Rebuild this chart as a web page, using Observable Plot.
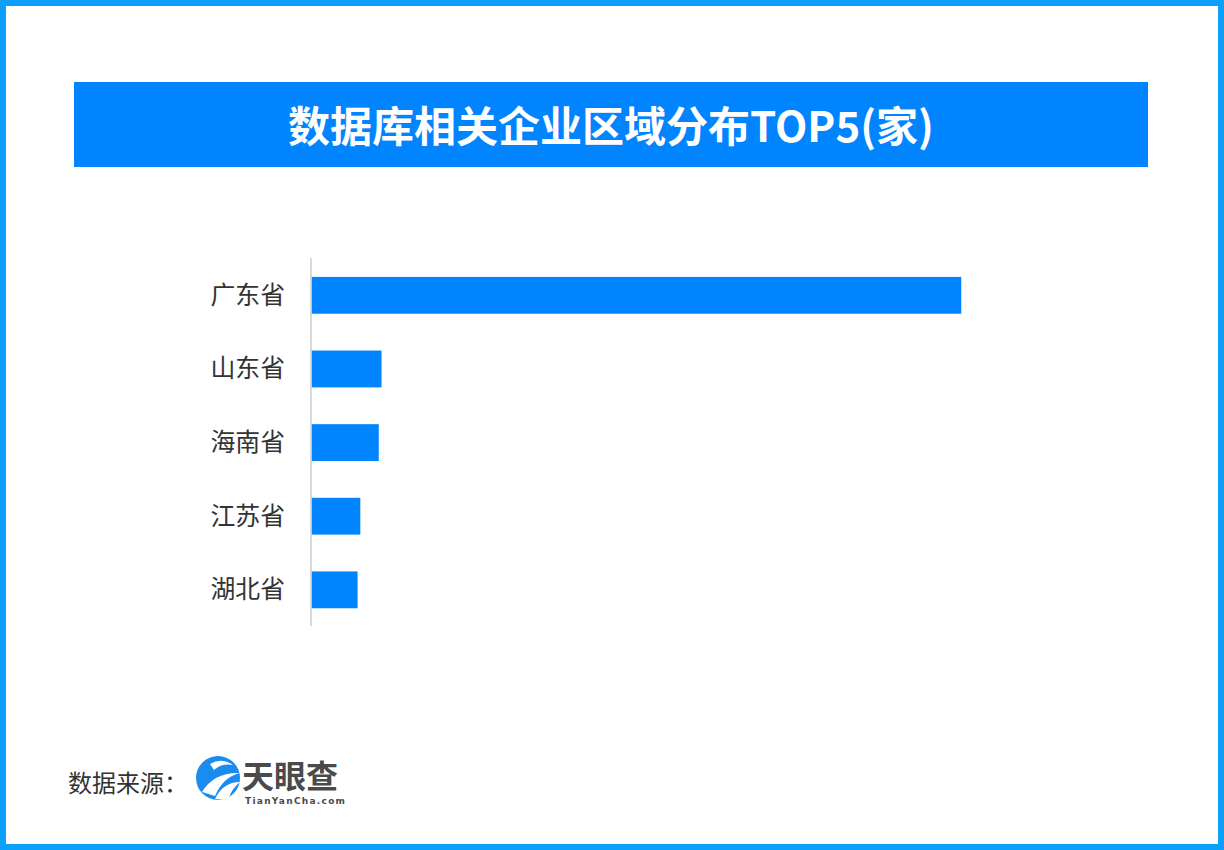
<!DOCTYPE html>
<html>
<head>
<meta charset="utf-8">
<script src="https://cdn.jsdelivr.net/npm/d3@7"></script>
<script src="https://cdn.jsdelivr.net/npm/@observablehq/plot@0.6"></script>
<style>
  html, body { margin: 0; padding: 0; background: #fff; }
  #page { position: relative; width: 1224px; height: 850px; box-sizing: border-box; border: 6px solid #0aa0fb; background: #fff; overflow: hidden; font-family: "Noto Sans CJK SC", "Noto Sans", sans-serif; }
  #title { position: absolute; left: 68px; top: 76px; width: 1074px; height: 85px; background: #0084ff; color: #fff; font-size: 42px; font-weight: bold; line-height: 83px; text-align: center; }
  #chart { position: absolute; left: -6px; top: 252px; }
  #source { position: absolute; left: 62px; top: 756px; font-size: 24px; color: #333; line-height: 40px; }
  #logo { position: absolute; left: 184px; top: 742px; }
</style>
</head>
<body>
<div id="page">
  <div id="title">数据库相关企业区域分布TOP5(家)</div>
  <div id="chart"></div>
  <div id="source">数据来源：</div>
  <div id="logo">
    <svg width="170" height="62" viewBox="0 0 170 62">
      <circle cx="28" cy="30" r="22" fill="#1a8cf0"/>
      <path d="M12 44 Q24 24 50 25 Q33 29 25 48 Z" fill="#fff"/>
      <path d="M25 51 Q33 34 50 34 Q42 40 38 52 Z" fill="#fff"/>
      <path d="M20 16 Q32 9 43 17 Q32 15 24 22 Z" fill="#fff"/>
      <text x="52" y="40" font-family="Noto Sans CJK SC" font-weight="bold" font-size="32" fill="#4a4a4a">天眼查</text>
      <text x="55" y="56" font-family="DejaVu Sans" font-weight="bold" font-size="9" fill="#4a4a4a" textLength="100">TianYanCha.com</text>
    </svg>
  </div>
</div>
<script>
const provinces = ["广东省", "山东省", "海南省", "江苏省", "湖北省"];
const counts = [1410, 152, 146, 106, 100];

const data = provinces.map((p, i) => ({province: p, count: counts[i]}));

const chart = Plot.plot({
  width: 1224,
  height: 370,
  marginLeft: 313,
  marginRight: 258,
  marginTop: 0,
  marginBottom: 0,
  x: {domain: [0, 1410], axis: null},
  y: {domain: provinces, paddingInner: 0.5, paddingOuter: 0.25, label: null},
  style: {fontFamily: "Noto Sans CJK SC", background: "transparent"},
  marks: [
    Plot.axisY({tickSize: 0, tickPadding: 27, fontSize: 25, fill: "#333", label: null}),
    Plot.barX(data, {y: "province", x: "count", fill: "#0084ff"}),
    Plot.ruleX([0], {stroke: "#cccccc", strokeWidth: 1.5, dx: -1})
  ]
});
document.getElementById("chart").appendChild(chart);
</script>
</body>
</html>
